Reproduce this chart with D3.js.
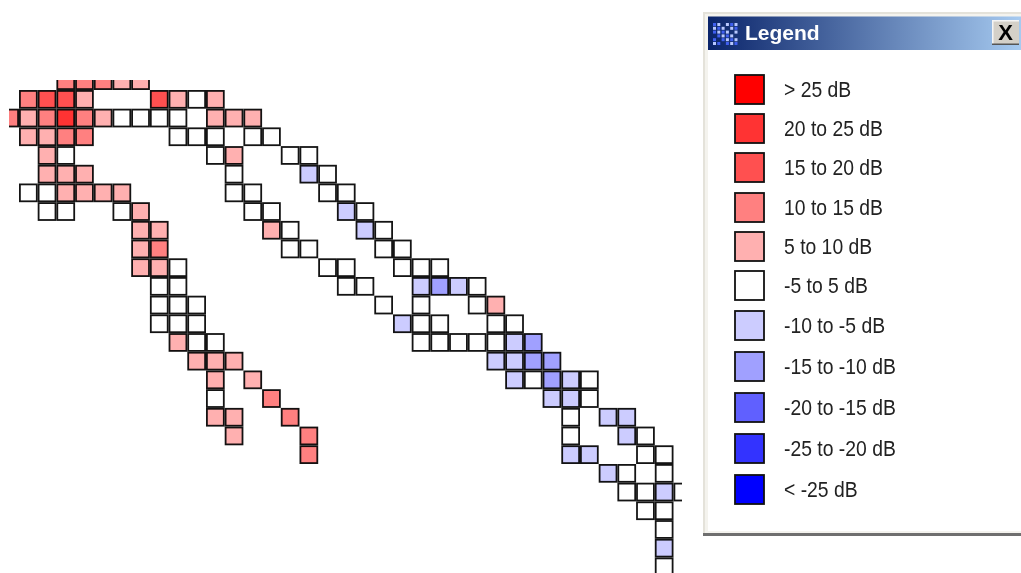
<!DOCTYPE html>
<html><head><meta charset="utf-8">
<script src="https://cdn.jsdelivr.net/npm/d3@7"></script>
<style>
html,body{margin:0;padding:0;background:#fff;overflow:hidden}
svg{display:block;filter:blur(0.45px)}
text{font-family:"Liberation Sans",Arial,sans-serif}
</style></head><body><svg id="c" width="1021" height="573"></svg>
<script>
// Map cells per grid row, each entry [column, dB reading inside the band shown by its colour]
const rowNumbers = d3.range(-1,26);
const cellsByRow = [
 [[2,12],[3,12],[4,12],[5,7],[6,7]],
 [[0,12],[1,17],[2,17],[3,7],[7,17],[8,7],[9,0],[10,7]],
 [[-1,12],[0,7],[1,12],[2,22],[3,12],[4,7],[5,0],[6,0],[7,0],[8,0],[10,7],[11,7],[12,7]],
 [[0,7],[1,7],[2,12],[3,12],[8,0],[9,0],[10,0],[12,0],[13,0]],
 [[1,7],[2,0],[10,0],[11,7],[14,0],[15,0]],
 [[1,7],[2,7],[3,7],[11,0],[15,-7],[16,0]],
 [[0,0],[1,0],[2,7],[3,7],[4,7],[5,7],[11,0],[12,0],[16,0],[17,0]],
 [[1,0],[2,0],[5,0],[6,7],[12,0],[13,0],[17,-7],[18,0]],
 [[6,7],[7,7],[13,7],[14,0],[18,-7],[19,0]],
 [[6,7],[7,12],[14,0],[15,0],[19,0],[20,0]],
 [[6,7],[7,7],[8,0],[16,0],[17,0],[20,0],[21,0],[22,0]],
 [[7,0],[8,0],[17,0],[18,0],[21,-7],[22,-12],[23,-7],[24,0]],
 [[7,0],[8,0],[9,0],[19,0],[21,0],[24,0],[25,7]],
 [[7,0],[8,0],[9,0],[20,-7],[21,0],[22,0],[25,0],[26,0]],
 [[8,7],[9,0],[10,0],[21,0],[22,0],[23,0],[24,0],[25,0],[26,-7],[27,-12]],
 [[9,7],[10,7],[11,7],[25,-7],[26,-7],[27,-12],[28,-12]],
 [[10,7],[12,7],[26,-7],[27,0],[28,-12],[29,-7],[30,0]],
 [[10,0],[13,12],[28,-7],[29,-7],[30,0]],
 [[10,7],[11,7],[14,12],[29,0],[31,-7],[32,-7]],
 [[11,7],[15,12],[29,0],[32,-7],[33,0]],
 [[15,12],[29,-7],[30,-7],[33,0],[34,0]],
 [[31,-7],[32,0],[34,0]],
 [[32,0],[33,0],[34,-7],[35,0]],
 [[33,0],[34,0]],
 [[34,0]],
 [[34,-7]],
 [[34,0]]
];
const legendLabels = ["> 25 dB","20 to 25 dB","15 to 20 dB","10 to 15 dB","5 to 10 dB","-5 to 5 dB","-10 to -5 dB","-15 to -10 dB","-20 to -15 dB","-25 to -20 dB","< -25 dB"];
const legendColors = ["#ff0000","#ff3333","#ff5050","#ff8080","#ffb0b0","#ffffff","#ccccff","#a0a0ff","#6060ff","#3333ff","#0000ff"];
const bandEdges = [-25,-20,-15,-10,-5,5,10,15,20,25];
const legendTops = [75,114,153,193,232,271,311,352,393,434,475];
const windowTitle = "Legend";

const svg = d3.select("#c");
const color = d3.scaleThreshold().domain(bandEdges).range(legendColors.slice().reverse());
const sx = d3.scaleLinear().domain([0,34]).range([19,654.8]);
const sy = d3.scaleLinear().domain([0,25]).range([90,557.5]);
const cells = cellsByRow.flatMap((row,i)=>row.map(d=>({col:d[0],row:rowNumbers[i],db:d[1]})));

const defs = svg.append("defs");
defs.append("clipPath").attr("id","mapClip").append("rect").attr("x",9).attr("y",80).attr("width",673).attr("height",493);
const grad = defs.append("linearGradient").attr("id","tb");
grad.append("stop").attr("offset","0").attr("stop-color","#0a246a");
grad.append("stop").attr("offset","1").attr("stop-color","#a6caf0");

const g = svg.append("g").attr("clip-path","url(#mapClip)");
g.selectAll("rect").data(cells).join("rect")
 .attr("x",d=>sx(d.col)+0.9).attr("y",d=>sy(d.row)+0.9).attr("width",16.9).attr("height",16.9)
 .attr("fill",d=>color(d.db)).attr("stroke","#000").attr("stroke-opacity",0.92).attr("stroke-width",1.8);

// Legend window
const w = svg.append("g");
w.append("rect").attr("x",703).attr("y",12).attr("width",318).attr("height",524).attr("fill","#e4e2da");
w.append("rect").attr("x",705).attr("y",14).attr("width",316).attr("height",519).attr("fill","#f4f3ee");
w.append("rect").attr("x",703).attr("y",533).attr("width",318).attr("height",3).attr("fill","#6f6f6f");
w.append("rect").attr("x",708).attr("y",16.5).attr("width",313).attr("height",33.5).attr("fill","url(#tb)");
w.append("rect").attr("x",708).attr("y",50).attr("width",313).attr("height",481).attr("fill","#fff");
w.append("rect").attr("x",992).attr("y",20).attr("width",27).attr("height",25).attr("fill","#d4d0c8");
w.append("rect").attr("x",992).attr("y",20).attr("width",27).attr("height",1.5).attr("fill","#f5f5f5");
w.append("rect").attr("x",992).attr("y",20).attr("width",1.5).attr("height",25).attr("fill","#f5f5f5");
w.append("rect").attr("x",992).attr("y",43.5).attr("width",27).attr("height",1.5).attr("fill","#555");
w.append("text").attr("x",1005.5).attr("y",40).attr("text-anchor","middle")
 .attr("font-size",22).attr("font-weight",700).attr("fill","#000").text("X");
w.append("text").attr("x",745).attr("y",40).attr("font-size",21).attr("font-weight",700).attr("fill","#fff").text(windowTitle);
// title bar icon
const ic = w.append("g");
d3.range(6).forEach(i=>d3.range(6).forEach(j=>{ if((i*3+j*2)%5!==1) ic.append("rect").attr("x",713+i*4.3).attr("y",23+j*3.8).attr("width",3).attr("height",3).attr("fill",(i+j)%2?"#b8c8ff":"#3f5ff0");}));

const rowsG = w.selectAll("g.row").data(legendLabels).join("g").attr("class","row");
rowsG.append("rect").attr("x",735).attr("y",(d,i)=>legendTops[i]).attr("width",29).attr("height",29)
 .attr("fill",(d,i)=>legendColors[i]).attr("stroke","#111").attr("stroke-width",1.8);
rowsG.append("text").attr("transform",(d,i)=>`translate(784,${legendTops[i]+22}) scale(0.86,1)`)
 .attr("font-size",22.5).attr("fill","#222").text(d=>d);
</script></body></html>
